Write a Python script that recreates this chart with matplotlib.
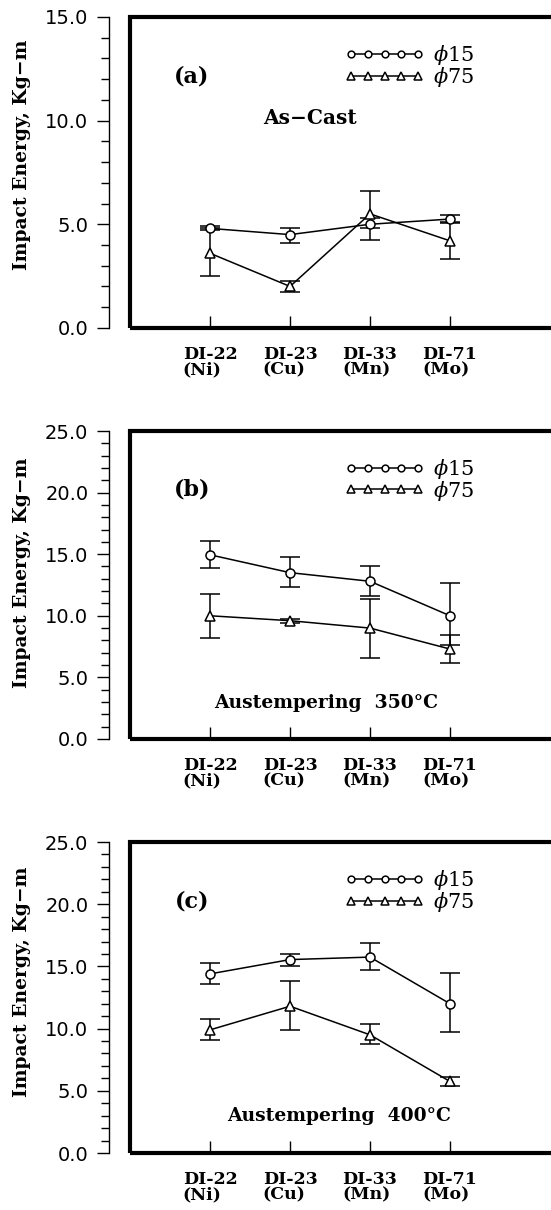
import numpy as np
import matplotlib
matplotlib.use("Agg")
import matplotlib.pyplot as plt
from matplotlib.patches import Rectangle
from matplotlib.ticker import MultipleLocator, FormatStrFormatter

plt.rcParams["mathtext.fontset"] = "dejavuserif"

# alloys on the x axis
alloys = ["DI-22\n(Ni)", "DI-23\n(Cu)", "DI-33\n(Mn)", "DI-71\n(Mo)"]
xpos = [1, 2, 3, 4]

# (a) as-cast
a_d15 = [4.8, 4.5, 5.0, 5.25]
a_d15_lo = [0.1, 0.4, 0.75, 0.2]
a_d15_hi = [0.1, 0.3, 0.3, 0.2]
a_d75 = [3.6, 2.0, 5.5, 4.2]
a_d75_lo = [1.1, 0.28, 0.7, 0.9]
a_d75_hi = [1.2, 0.25, 1.1, 0.9]

# (b) austempered 350 C
b_d15 = [14.95, 13.5, 12.8, 10.0]
b_d15_lo = [1.1, 1.2, 1.2, 2.4]
b_d15_hi = [1.1, 1.3, 1.2, 2.7]
b_d75 = [10.0, 9.6, 9.0, 7.3]
b_d75_lo = [1.8, 0.15, 2.4, 1.1]
b_d75_hi = [1.8, 0.15, 2.4, 1.1]

# (c) austempered 400 C
c_d15 = [14.4, 15.55, 15.75, 12.0]
c_d15_lo = [0.8, 0.5, 1.05, 2.3]
c_d15_hi = [0.9, 0.45, 1.1, 2.45]
c_d75 = [9.9, 11.8, 9.5, 5.75]
c_d75_lo = [0.8, 1.95, 0.7, 0.35]
c_d75_hi = [0.85, 2.0, 0.9, 0.35]

panels = [
    ("(a)", "As\u2212Cast", 14.5, 15.0, (a_d15, a_d15_lo, a_d15_hi), (a_d75, a_d75_lo, a_d75_hi),
     (0.729, 0.257), (0.41, 0.675), 0.556),
    ("(b)", "Austempering  350\u00b0C", 13.5, 25.0, (b_d15, b_d15_lo, b_d15_hi), (b_d75, b_d75_lo, b_d75_hi),
     (0.3893, 0.2545), (0.445, 0.117), 0.54),
    ("(c)", "Austempering  400\u00b0C", 13.5, 25.0, (c_d15, c_d15_lo, c_d15_hi), (c_d75, c_d75_lo, c_d75_hi),
     (0.0471, 0.257), (0.475, 0.12), 0.55),
]

serif = "DejaVu Serif"
fig = plt.figure(figsize=(5.51, 12.10), dpi=100)

for tag, title, tsize, ymax, s15, s75, (bot, hgt), (tx, ty), ylab_y in panels:
    ax = fig.add_axes([0.236, bot, 0.7985, hgt])
    ax.set_xlim(0, 5.5)
    ax.set_ylim(0, ymax)

    e15 = ax.errorbar(xpos, s15[0], yerr=[s15[1], s15[2]], color="black", lw=1.1,
                      marker="o", ms=6.5, mfc="white", mec="black", mew=1.1,
                      capsize=7, capthick=1.3, elinewidth=1.1)
    e75 = ax.errorbar(xpos, s75[0], yerr=[s75[1], s75[2]], color="black", lw=1.1,
                      marker="^", ms=7, mfc="white", mec="black", mew=1.1,
                      capsize=7, capthick=1.3, elinewidth=1.1)

    # thick frame round the plotting area, thin offset value axis
    for side in ["top", "right", "bottom"]:
        ax.spines[side].set_visible(False)
    ax.spines["left"].set_position(("outward", 15))
    ax.spines["left"].set_linewidth(1.0)
    ax.add_patch(Rectangle((0, 0), 1, 1, transform=ax.transAxes, fill=False,
                           lw=3, ec="black", clip_on=False, zorder=5))

    ax.yaxis.set_major_locator(MultipleLocator(5))
    ax.yaxis.set_minor_locator(MultipleLocator(1))
    ax.yaxis.set_major_formatter(FormatStrFormatter("%.1f"))
    ax.tick_params(axis="y", which="major", direction="out", length=9, width=1.0,
                   labelsize=14, pad=6)
    ax.tick_params(axis="y", which="minor", direction="out", length=6, width=1.0)

    ax.set_xticks(xpos)
    ax.set_xticklabels(alloys, fontfamily=serif, fontweight="bold", fontsize=12.5,
                       linespacing=0.85, multialignment="left")
    ax.tick_params(axis="x", direction="in", length=9, width=1.0, pad=13)

    ax.set_ylabel("Impact Energy, Kg\u2212m", fontfamily=serif, fontweight="bold",
                  fontsize=13.5)
    ax.yaxis.set_label_coords(-0.225, ylab_y)

    ax.text(0.14, 0.81, tag, transform=ax.transAxes, fontfamily=serif,
            fontsize=16, fontweight="bold", ha="center", va="center")
    ax.text(tx, ty, title, transform=ax.transAxes, fontfamily=serif,
            fontsize=tsize, fontweight="bold", ha="center", va="center")

    ax.legend([e15[0], e75[0]], ["$\\phi$15", "$\\phi$75"],
              loc="upper left", bbox_to_anchor=(0.465, 0.95), frameon=False,
              numpoints=5, handlelength=3.8, handletextpad=0.4,
              labelspacing=-0.1, markerscale=0.75, borderpad=0,
              prop={"family": serif, "size": 15})

fig.savefig("out.png", dpi=100)
